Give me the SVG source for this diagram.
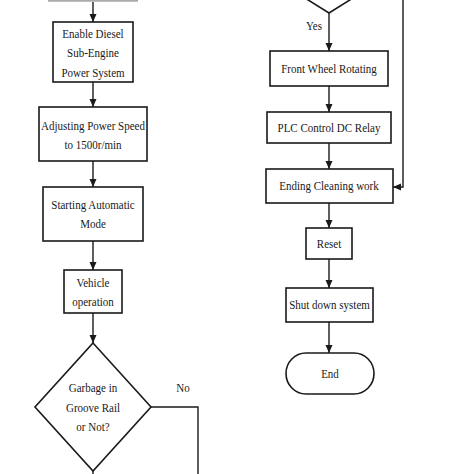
<svg xmlns="http://www.w3.org/2000/svg" width="474" height="474" viewBox="0 0 474 474">
<defs>
<marker id="arr" markerWidth="9" markerHeight="9" refX="8" refY="4.5" orient="auto" markerUnits="userSpaceOnUse">
<path d="M0,1 L8,4.5 L0,8 Z" fill="#1a1a1a"/>
</marker>
<style>
.box{fill:#fff;stroke:#1a1a1a;stroke-width:1.6}
.ln{fill:none;stroke:#1a1a1a;stroke-width:1.4}
.t{font-family:"Liberation Serif","Times New Roman",serif;font-size:12.5px;fill:#1a1a1a;text-anchor:middle}
</style>
</defs>
<rect width="474" height="474" fill="#fff"/>
<g id="connectors">
<line class="ln" x1="93" y1="2" x2="93" y2="22" marker-end="url(#arr)"/>
<line class="ln" x1="93" y1="82" x2="93" y2="107" marker-end="url(#arr)"/>
<line class="ln" x1="93" y1="161" x2="93" y2="187" marker-end="url(#arr)"/>
<line class="ln" x1="93" y1="241" x2="93" y2="270" marker-end="url(#arr)"/>
<line class="ln" x1="93" y1="313" x2="93" y2="343" marker-end="url(#arr)"/>
<line class="ln" x1="93" y1="471" x2="93" y2="474"/>
<polyline class="ln" points="151,407 198,407 198,474"/>
<line class="ln" x1="329" y1="13" x2="329" y2="51" marker-end="url(#arr)"/>
<line class="ln" x1="329" y1="86" x2="329" y2="112" marker-end="url(#arr)"/>
<line class="ln" x1="329" y1="143" x2="329" y2="169" marker-end="url(#arr)"/>
<polyline class="ln" points="403,0 403,187 393,187" marker-end="url(#arr)"/>
<line class="ln" x1="329" y1="203" x2="329" y2="228" marker-end="url(#arr)"/>
<line class="ln" x1="329" y1="259" x2="329" y2="288" marker-end="url(#arr)"/>
<line class="ln" x1="329" y1="322" x2="329" y2="353" marker-end="url(#arr)"/>
<g transform="translate(314,0) scale(0.88,1)"><text class="t" x="0" y="30">Yes</text></g>
<g transform="translate(183,0) scale(0.88,1)"><text class="t" x="0" y="392">No</text></g>
</g>
<g id="prev-box">
<line x1="48" y1="0.8" x2="138" y2="0.8" stroke="#aaa" stroke-width="2"/>
</g>
<g id="enable-diesel">
<rect class="box" x="53" y="22" width="80" height="60"/>
<g transform="translate(93,0) scale(0.88,1)">
<text class="t" x="0" y="38">Enable Diesel</text>
<text class="t" x="0" y="57.5">Sub-Engine</text>
<text class="t" x="0" y="77">Power System</text>
</g>
</g>
<g id="adjusting-speed">
<rect class="box" x="39" y="107" width="108" height="54"/>
<g transform="translate(93,0) scale(0.88,1)">
<text class="t" x="0" y="130.5">Adjusting Power Speed</text>
<text class="t" x="0" y="149.5">to 1500r/min</text>
</g>
</g>
<g id="starting-auto">
<rect class="box" x="43" y="187" width="100" height="54"/>
<g transform="translate(93,0) scale(0.88,1)">
<text class="t" x="0" y="209">Starting Automatic</text>
<text class="t" x="0" y="228.5">Mode</text>
</g>
</g>
<g id="vehicle-operation">
<rect class="box" x="64" y="270" width="58" height="43"/>
<g transform="translate(93,0) scale(0.88,1)">
<text class="t" x="0" y="287">Vehicle</text>
<text class="t" x="0" y="306.5">operation</text>
</g>
</g>
<g id="garbage-decision">
<polygon class="box" points="93,343 151,407 93,471 35,407"/>
<g transform="translate(93,0) scale(0.88,1)">
<text class="t" x="0" y="392.5">Garbage in</text>
<text class="t" x="0" y="412.5">Groove Rail</text>
<text class="t" x="0" y="431.5">or Not?</text>
</g>
</g>
<g id="top-decision">
<polygon class="box" points="329,-67 393,-27 329,13 265,-27"/>
</g>
<g id="front-wheel">
<rect class="box" x="270" y="51" width="118" height="35"/>
<g transform="translate(329,0) scale(0.88,1)"><text class="t" x="0" y="73">Front Wheel Rotating</text></g>
</g>
<g id="plc-relay">
<rect class="box" x="267" y="112" width="124" height="31"/>
<g transform="translate(329,0) scale(0.88,1)"><text class="t" x="0" y="132">PLC Control DC Relay</text></g>
</g>
<g id="ending-cleaning">
<rect class="box" x="266" y="169" width="127" height="34"/>
<g transform="translate(329,0) scale(0.88,1)"><text class="t" x="0" y="190.5">Ending Cleaning work</text></g>
</g>
<g id="reset">
<rect class="box" x="306" y="228" width="46" height="31"/>
<g transform="translate(329,0) scale(0.88,1)"><text class="t" x="0" y="248">Reset</text></g>
</g>
<g id="shut-down">
<rect class="box" x="286" y="288" width="87" height="34"/>
<g transform="translate(329.5,0) scale(0.88,1)"><text class="t" x="0" y="309.5">Shut down system</text></g>
</g>
<g id="end">
<rect class="box" x="286" y="353" width="88" height="41" rx="20" ry="20.5"/>
<g transform="translate(330,0) scale(0.88,1)"><text class="t" x="0" y="378">End</text></g>
</g>
</svg>
